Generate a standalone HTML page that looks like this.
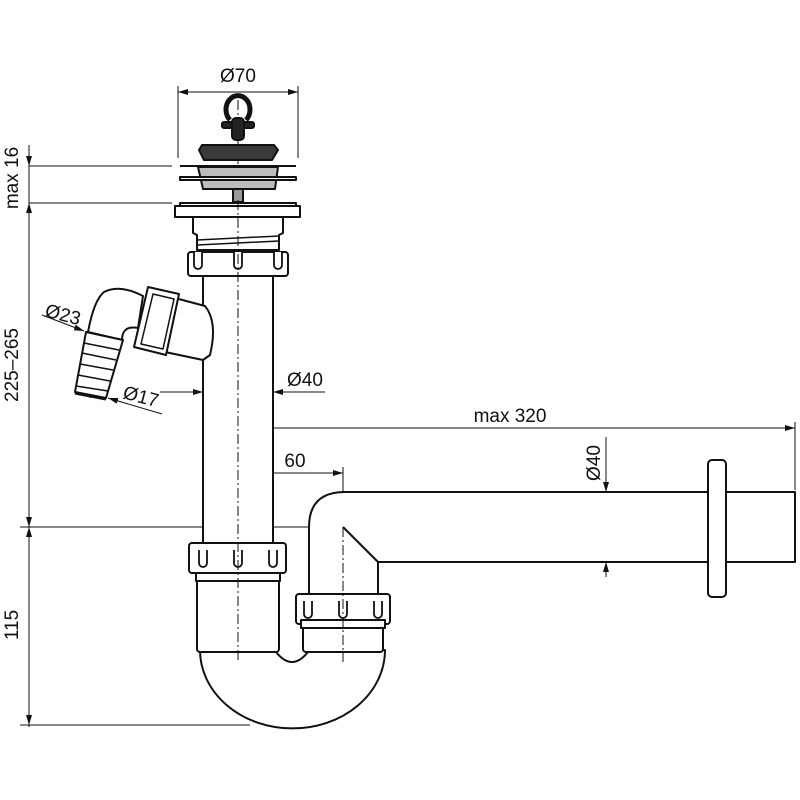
<!DOCTYPE html>
<html><head><meta charset="utf-8"><style>
html,body{margin:0;padding:0;background:#fff}
svg{display:block}
text{font-family:"Liberation Sans",sans-serif;font-size:19px;fill:#111}
</style></head><body>
<svg width="800" height="800" viewBox="0 0 800 800" xmlns="http://www.w3.org/2000/svg">
<defs>
<marker id="a" viewBox="0 0 10 6" refX="10" refY="3" markerWidth="10" markerHeight="6" orient="auto-start-reverse" markerUnits="userSpaceOnUse"><path d="M0,0L10,3L0,6z" fill="#111"/></marker>
</defs>
<g stroke="#111" stroke-width="1" fill="none">
<line x1="29" y1="145" x2="29" y2="727"/>
<line x1="29" y1="166" x2="172" y2="166"/>
<line x1="29" y1="203" x2="172" y2="203"/>
<line x1="20" y1="527" x2="340" y2="527"/>
<line x1="20" y1="725" x2="250" y2="725"/>
<line x1="29" y1="150" x2="29" y2="166" marker-end="url(#a)"/>
<line x1="29" y1="218" x2="29" y2="203" marker-end="url(#a)"/>
<line x1="29" y1="515" x2="29" y2="527" marker-end="url(#a)"/>
<line x1="29" y1="540" x2="29" y2="527" marker-end="url(#a)"/>
<line x1="29" y1="712" x2="29" y2="725" marker-end="url(#a)"/>
<line x1="178" y1="86" x2="178" y2="158"/>
<line x1="298" y1="86" x2="298" y2="158"/>
<line x1="178" y1="92" x2="298" y2="92" marker-start="url(#a)" marker-end="url(#a)"/>
<line x1="160" y1="392" x2="203" y2="392" marker-end="url(#a)"/>
<line x1="325" y1="392" x2="273" y2="392" marker-end="url(#a)"/>
<line x1="238" y1="428" x2="795" y2="428" marker-end="url(#a)"/>
<line x1="795" y1="422" x2="795" y2="490"/>
<line x1="238" y1="473" x2="343" y2="473" marker-end="url(#a)"/>
<line x1="343" y1="467" x2="343" y2="527"/>
<line x1="606" y1="437" x2="606" y2="492" marker-end="url(#a)"/>
<line x1="606" y1="577" x2="606" y2="562" marker-end="url(#a)"/>
<line x1="606" y1="492" x2="606" y2="562"/>
<line x1="42" y1="315" x2="84" y2="331" marker-end="url(#a)"/>
<line x1="162" y1="414" x2="108" y2="398" marker-end="url(#a)"/>
</g>
<g stroke="#111" stroke-width="1" stroke-dasharray="10,3,2,3" fill="none">
<line x1="238" y1="100" x2="238" y2="662"/>
<line x1="343" y1="527" x2="795" y2="527"/>
<line x1="343" y1="500" x2="343" y2="662"/>
<line x1="105" y1="308" x2="240" y2="345"/>
<line x1="112" y1="315" x2="90" y2="398"/>
</g>
<g stroke="#111" stroke-width="2" fill="#fff" stroke-linejoin="round">
<path d="M230 120 A12 14 0 1 1 246 120" fill="none" stroke-width="5"/>
<rect x="222" y="122" width="32" height="6" rx="2" fill="#222"/>
<rect x="232" y="118" width="12" height="22" rx="4" fill="#222"/>
<path d="M202 145 L274 145 L278 150 L272 160 L204 160 L199 150 Z" fill="#3a3a3a"/>
<line x1="180" y1="166" x2="296" y2="166"/>
<path d="M198 167 L278 167 L275 189 L203 189 Z" fill="#bdbdbd"/>
<rect x="180" y="177" width="116" height="3" fill="#fff"/>
<rect x="233" y="189" width="10" height="13" fill="#999"/>
<rect x="180" y="203" width="116" height="3"/>
<rect x="175" y="206" width="125" height="11"/>
<path d="M193 217 L283 217 L283 233 L279 235 L279 250 L197 250 L197 235 L193 233 Z"/>
<line x1="197" y1="240" x2="279" y2="236" stroke-width="1.5"/>
<line x1="197" y1="245" x2="279" y2="241" stroke-width="1.5"/>
<rect x="203" y="272" width="70" height="275"/>
<path d="M175 298 L205 306 Q218 322 210 355 L203 360 L165 352 Z"/>
<rect x="188" y="252" width="100" height="24" rx="3"/>
<path d="M194 252 v13 a4 4 0 0 0 8 0 v-13 M234 252 v13 a4 4 0 0 0 8 0 v-13 M274 252 v13 a4 4 0 0 0 8 0 v-13" stroke-width="1.8"/>
<polygon points="148,287 179,294 166,355 134,347"/>
<polygon points="153,294 174,299 163,349 141,344" fill="none" stroke-width="1.5"/>
<path d="M143 296 Q120 284 104 292 Q94 300 88 332 L122 340 Q122 325 138 328 Z"/>
<polygon points="86,332 123,340 106,398 75,392"/>
<g stroke-width="1.5"><line x1="84" y1="343" x2="119" y2="350"/><line x1="82" y1="353" x2="116" y2="360"/><line x1="80" y1="364" x2="113" y2="370"/><line x1="78" y1="375" x2="110" y2="381"/><line x1="76" y1="386" x2="108" y2="391"/></g>
<line x1="75" y1="393" x2="106" y2="399" stroke-width="3"/>
<path d="M309 595 L309 527 Q309 492 345 492 L795 492 L795 562 L378 562 L378 595"/>
<path d="M343 527 L378 562" fill="none"/>
<rect x="708" y="460" width="18" height="137" rx="4"/>
<path d="M200 650 A92 78 0 0 0 385 650 Z"/>
<path d="M276 650 Q292 672 308 650 Z" stroke="#fff"/>
<path d="M276 652 Q292 672 308 652" fill="none"/>
<rect x="197" y="578" width="82" height="74" rx="3"/>
<rect x="303" y="622" width="80" height="30" rx="3"/>
<rect x="189" y="543" width="97" height="30" rx="3"/>
<rect x="196" y="573" width="84" height="8"/>
<path d="M199 550 v13 a4 4 0 0 0 8 0 v-13 M234 550 v13 a4 4 0 0 0 8 0 v-13 M269 550 v13 a4 4 0 0 0 8 0 v-13" stroke-width="1.8"/>
<rect x="296" y="594" width="94" height="30" rx="3"/>
<rect x="301" y="620" width="84" height="8"/>
<path d="M304 601 v13 a4 4 0 0 0 8 0 v-13 M339 601 v13 a4 4 0 0 0 8 0 v-13 M374 601 v13 a4 4 0 0 0 8 0 v-13" stroke-width="1.8"/>
</g>
<g stroke="#111" stroke-width="1" stroke-dasharray="10,3,2,3"><line x1="238" y1="200" x2="238" y2="662"/><line x1="343" y1="527" x2="343" y2="662"/></g>
<text x="238" y="82" text-anchor="middle">Ø70</text>
<text x="305" y="386" text-anchor="middle">Ø40</text>
<text x="510" y="422" text-anchor="middle">max 320</text>
<text x="295" y="467" text-anchor="middle">60</text>
<text transform="translate(600,463) rotate(-90)" text-anchor="middle">Ø40</text>
<text transform="translate(18,178) rotate(-90)" text-anchor="middle">max 16</text>
<text transform="translate(18,365) rotate(-90)" text-anchor="middle">225–265</text>
<text transform="translate(18,625) rotate(-90)" text-anchor="middle">115</text>
<text transform="translate(44,316) rotate(15)">Ø23</text>
<text transform="translate(122,398) rotate(15)">Ø17</text>
</svg>
</body></html>
